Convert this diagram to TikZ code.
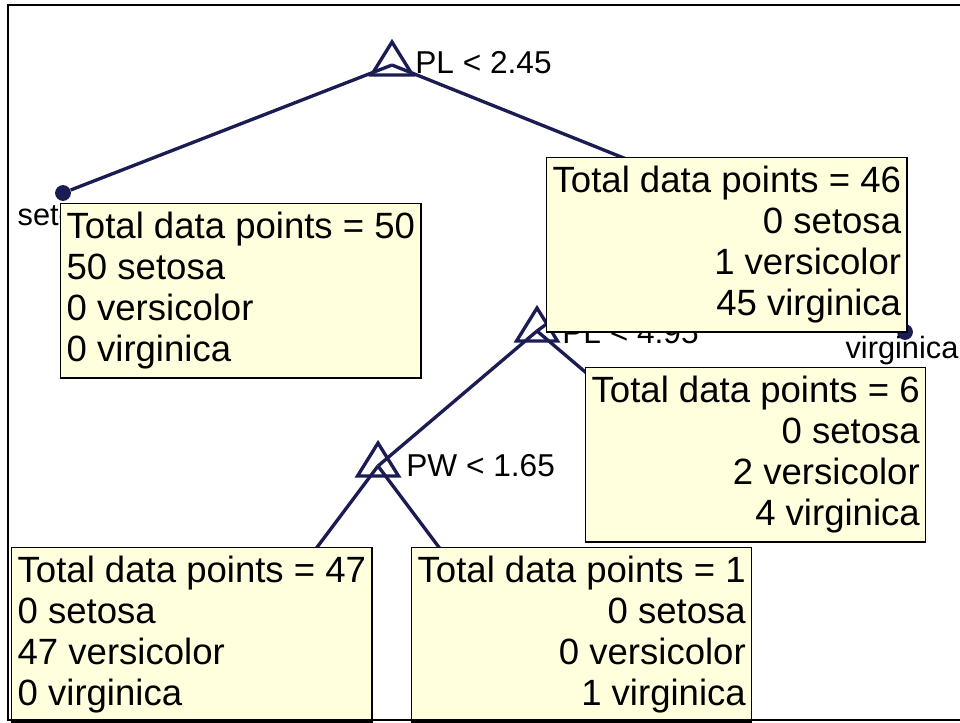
\documentclass[tikz,border=0pt]{standalone}
\usepackage{fontspec}
\setmainfont{Liberation Sans}
\usepackage{tikz}

\definecolor{treenavy}{RGB}{28,28,84}
\definecolor{tipyellow}{RGB}{255,255,222}

\tikzset{
	treeline/.style = {draw=treenavy, line width=1.9pt},
	splitlabel/.style = {anchor=west, inner sep=0pt, font=\fontsize{18}{20}\selectfont},
	leafdot/.style = {circle, fill=treenavy, inner sep=0pt, minimum size=9pt},
	leaflabel/.style = {anchor=base, inner sep=0pt, font=\fontsize{17.5}{20}\selectfont},
	infobox/.style = {draw=black, line width=0.8pt, fill=tipyellow, anchor=north west,
		inner xsep=3.4pt, inner ysep=5pt, font=\fontsize{20.8}{23.3}\selectfont}
}

% split marker: open triangle sitting on the junction point
\newcommand{\splitmark}[1]{%
	\draw[treeline, line join=miter] (#1) ++(0,-23) -- ++(-20.5,33) -- ++(41,0) -- cycle;}

\begin{document}
\begin{tikzpicture}[x=0.02cm, y=-0.02cm]

\useasboundingbox (0,0) rectangle (960,723);
\clip (0,0) rectangle (960,723);

% split points
\coordinate (pl245) at (392,65);
\coordinate (pw175) at (721,197);
\coordinate (pl495) at (537,331);
\coordinate (pw165) at (378,466);
\coordinate (plright) at (696,466);
\coordinate (pwleft) at (300,570);
\coordinate (pwright) at (456,570);

% leaves
\node[leafdot] (setosa) at (63,193) {};
\node[leafdot] (virginica) at (905,332) {};

% edges
\draw[treeline] (pl245) -- (setosa);
\draw[treeline] (pl245) -- (pw175);
\draw[treeline] (pw175) -- (pl495);
\draw[treeline] (pw175) -- (virginica);
\draw[treeline] (pl495) -- (pw165);
\draw[treeline] (pl495) -- (plright);
\draw[treeline] (pw165) -- (pwleft);
\draw[treeline] (pw165) -- (pwright);

\splitmark{pl245}
\splitmark{pl495}
\splitmark{pw165}

\node[splitlabel] (pl245lab) at (415,63) {PL < 2.45};
\node[splitlabel] (pl495lab) at (562,333) {PL < 4.95};
\node[splitlabel] (pw165lab) at (406,466) {PW < 1.65};

\node[leaflabel] (setosalab) at (63,225) {setosa};
\node[leaflabel] (virginicalab) at (902,358) {virginica};

% class counts
\node[infobox, align=left] (box50) at (60,203)
	{Total data points = 50\\50 setosa\\0 versicolor\\0 virginica};
\node[infobox, align=right] (box46) at (546,157)
	{Total data points = 46\\0 setosa\\1 versicolor\\45 virginica};
\node[infobox, align=right] (box6) at (585,367)
	{Total data points = 6\\0 setosa\\2 versicolor\\4 virginica};
\node[infobox, align=left] (box47) at (11,547)
	{Total data points = 47\\0 setosa\\47 versicolor\\0 virginica};
\node[infobox, align=right] (box1) at (411,547)
	{Total data points = 1\\0 setosa\\0 versicolor\\1 virginica};

% frame
\draw[line width=1.4pt] (8,5) rectangle (990,720);

\end{tikzpicture}
\end{document}
